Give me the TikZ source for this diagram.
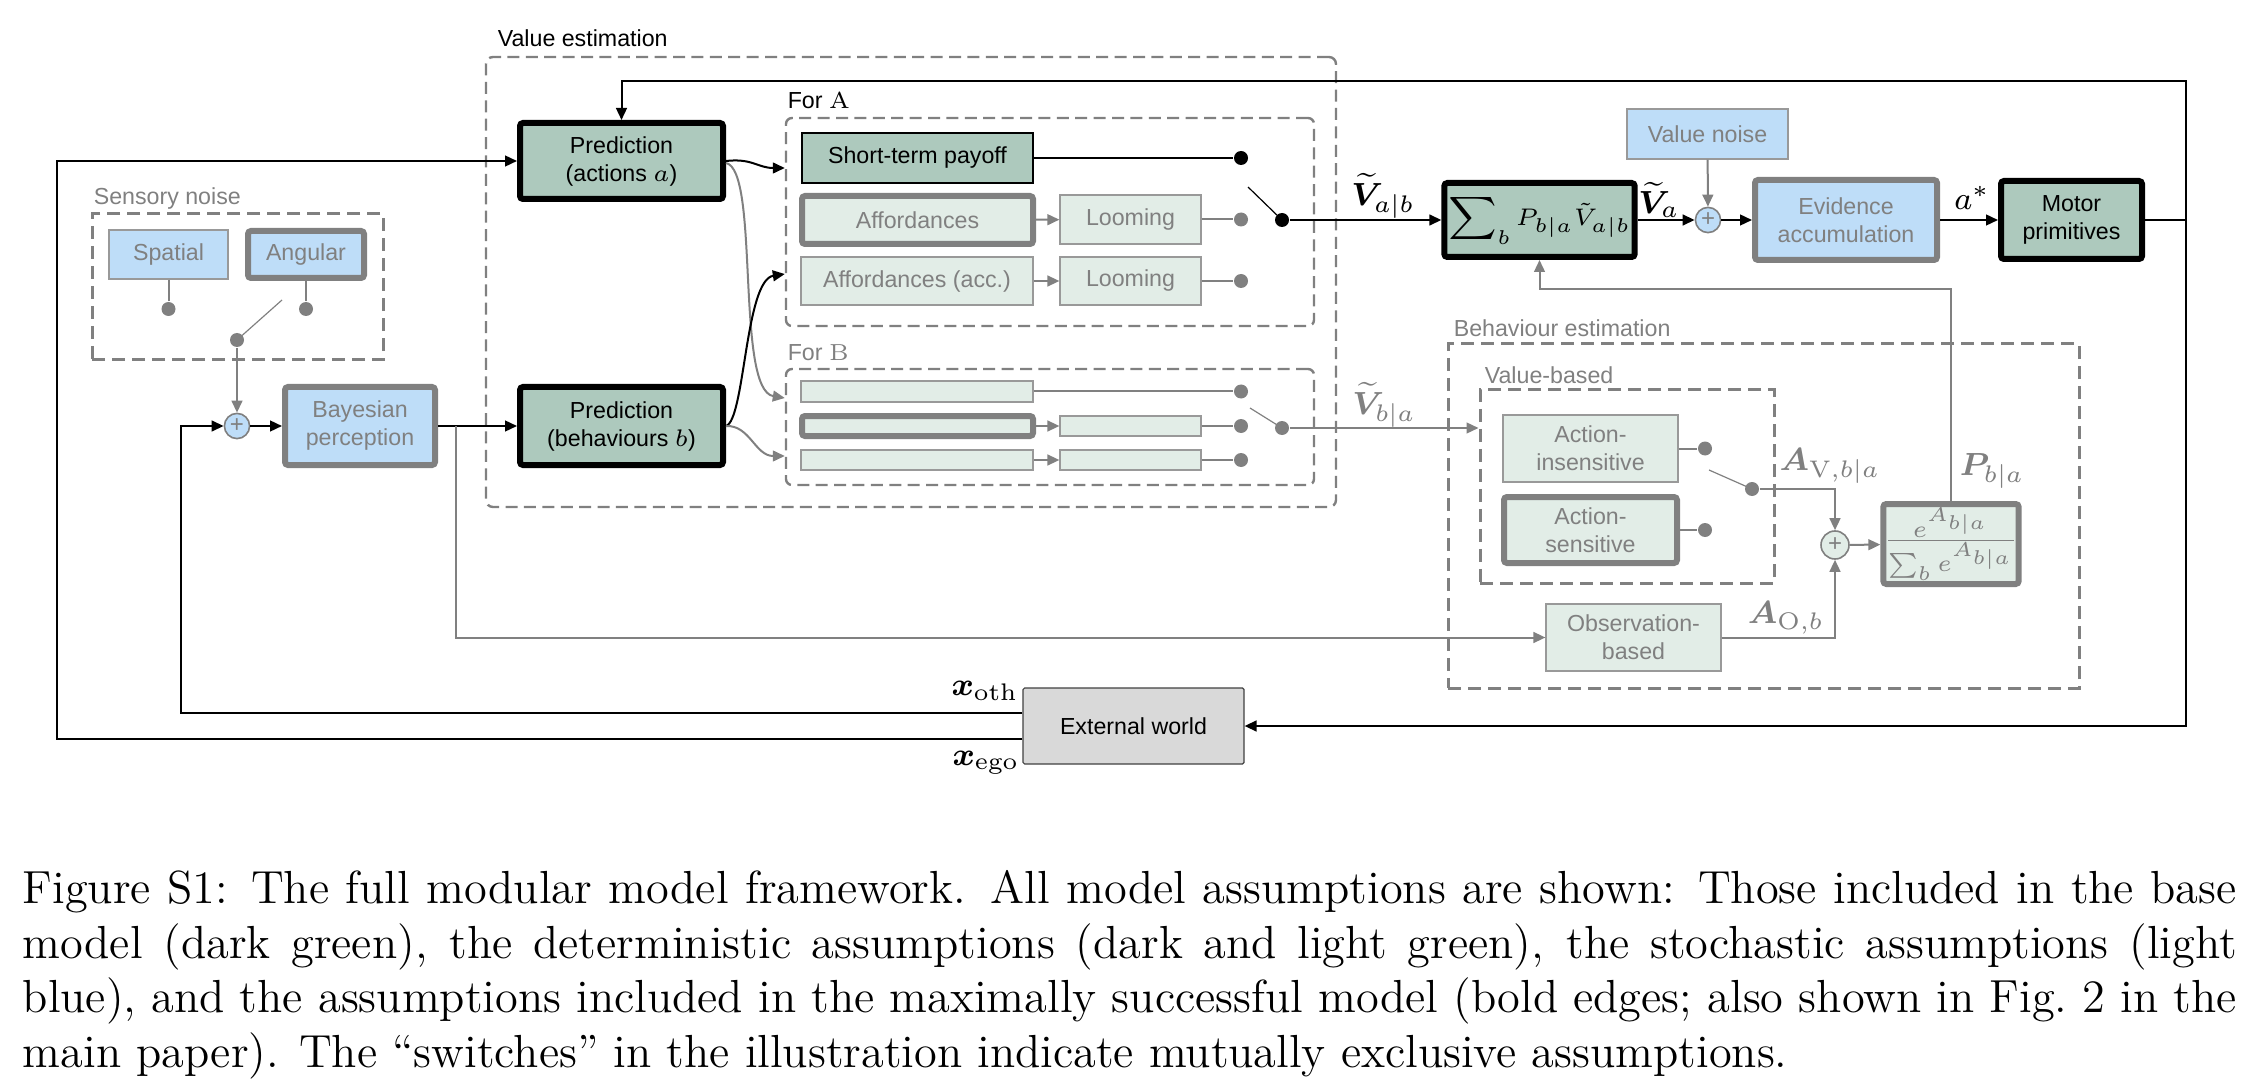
\documentclass[tikz,border=0pt]{standalone}
\usepackage{fontspec}
\setsansfont{Liberation Sans}
\usepackage{amsmath,bm}
\usetikzlibrary{arrows.meta}
\definecolor{dkgreen}{RGB}{173,201,189}
\definecolor{ltgreen}{RGB}{226,237,231}
\definecolor{ltblue}{RGB}{190,221,248}
\definecolor{midgray}{RGB}{128,128,128}
\definecolor{worldgray}{RGB}{217,217,217}
\tikzset{
 box/.style={draw=midgray!80, line width=0.3pt, inner sep=1pt, align=center, font=\sffamily\fontsize{5.8}{7}\selectfont},
 basebox/.style={box, fill=dkgreen, draw=black, text=black},
 detbox/.style={box, fill=ltgreen, text=midgray},
 stochbox/.style={box, fill=ltblue, text=midgray},
 worldbox/.style={box, fill=worldgray, draw=black!75, text=black, rounded corners=0.4pt},
 boldk/.style={draw=black, line width=1.5pt, rounded corners=0.75pt},
 boldg/.style={draw=midgray, line width=1.5pt, rounded corners=0.75pt},
 grp/.style={draw=midgray, line width=0.6pt, dash pattern=on 3pt off 1.6pt},
 grpthick/.style={grp, line width=0.75pt, dash pattern=on 3.2pt off 1.8pt},
 grplabel/.style={anchor=base west, inner sep=0, text=midgray, font=\sffamily\fontsize{5.8}{7}\selectfont},
 dotk/.style={circle, fill=black, inner sep=0, minimum size=3.5pt},
 dotg/.style={dotk, fill=midgray},
 stochcirc/.style={circle, draw=midgray, line width=0.4pt, fill=ltblue, text=midgray, inner sep=0, minimum size=6.3pt, font=\sffamily\fontsize{6}{6}\selectfont},
 detcirc/.style={stochcirc, fill=ltgreen, minimum size=7pt},
 arr/.style={-{Triangle[length=3pt,width=2.7pt]}, line width=0.5pt, black},
 garr/.style={arr, midgray},
 kline/.style={line width=0.5pt, black},
 gline/.style={line width=0.5pt, midgray},
 gthin/.style={line width=0.3pt, midgray},
 lbl/.style={inner sep=0, font=\fontsize{8}{9}\selectfont},
}
\newcommand\capline[1]{\makebox[553.5pt][s]{#1}}
\begin{document}
\begin{tikzpicture}[x=0.25pt,y=-0.25pt]
\useasboundingbox (0,0) rectangle (2250,1091);

\node[grp, rounded corners=1.75pt, minimum width=212.5pt, minimum height=112.5pt] (valest) at (911,282) {};
\node[grplabel, text=black] (valestlbl) at (497,47) {Value estimation};
\node[grp, rounded corners=1.5pt, minimum width=132pt, minimum height=52pt] (forA) at (1050,222) {};
\node[grplabel, text=black] (forAlbl) at (787,109) {For {\rmfamily A}};
\node[grp, rounded corners=1.5pt, minimum width=132pt, minimum height=29pt] (forB) at (1050,427) {};
\node[grplabel] (forBlbl) at (787,361) {For {\rmfamily B}};
\node[grpthick, minimum width=72.75pt, minimum height=36.5pt] (sensory) at (237.5,287) {};
\node[grplabel] (sensorylbl) at (93,205) {Sensory noise};
\node[grpthick, minimum width=157.75pt, minimum height=86pt] (behest) at (1763.5,516) {};
\node[grplabel] (behestlbl) at (1453,337) {Behaviour estimation};
\node[grpthick, minimum width=73.5pt, minimum height=48.25pt] (valbased) at (1627,486.5) {};
\node[grplabel] (valbasedlbl) at (1484,383) {Value-based};

\node[stochbox, minimum width=29.75pt, minimum height=12.25pt] (spatial) at (168.5,254.5) {Spatial};
\node[stochbox, boldg, minimum width=29pt, minimum height=11.75pt] (angular) at (306,254.5) {Angular};
\node[dotg] (dS1) at (168.5,309) {};
\node[dotg] (dS2) at (306,309) {};
\node[dotg] (swS) at (237,340) {};
\node[stochcirc] (sumS) at (237,426) {+};
\node[stochbox, boldg, minimum width=37.5pt, minimum height=19.5pt] (bayes) at (360,426) {Bayesian\\perception};
\node[basebox, boldk, minimum width=50.75pt, minimum height=19pt] (predA) at (621.5,161) {Prediction\\(actions $a$)};
\node[basebox, boldk, minimum width=50.75pt, minimum height=19.5pt] (predB) at (621.5,426) {Prediction\\(behaviours $b$)};

\node[basebox, minimum width=57.75pt, minimum height=12.5pt] (stpay) at (917.5,158) {Short-term payoff};
\node[detbox, boldg, minimum width=57.75pt, minimum height=12pt] (aff) at (917.5,220) {Affordances};
\node[detbox, minimum width=35.25pt, minimum height=12.25pt] (loomA) at (1130.5,219.5) {Looming};
\node[detbox, minimum width=58pt, minimum height=12pt] (affacc) at (917,281) {Affordances (acc.)};
\node[detbox, minimum width=35.25pt, minimum height=12pt] (loomB) at (1130.5,281) {Looming};
\node[dotk] (dA1) at (1241,158) {};
\node[dotg] (dA2) at (1241,219.5) {};
\node[dotg] (dA3) at (1241,281) {};
\node[dotk] (swA) at (1282,220) {};

\node[detbox, minimum width=58pt, minimum height=5.25pt] (bpay) at (917,391.5) {};
\node[detbox, boldg, minimum width=57.75pt, minimum height=5pt] (baff) at (917.5,426) {};
\node[detbox, minimum width=35.25pt, minimum height=5pt] (bloomA) at (1130.5,426) {};
\node[detbox, minimum width=58pt, minimum height=5pt] (baffacc) at (917,460) {};
\node[detbox, minimum width=35.25pt, minimum height=5pt] (bloomB) at (1130.5,460) {};
\node[dotg] (dB1) at (1241,391.5) {};
\node[dotg] (dB2) at (1241,426) {};
\node[dotg] (dB3) at (1241,460) {};
\node[dotg] (swB) at (1282,428) {};

\node[basebox, boldk, minimum width=42.25pt, minimum height=18.5pt] (expect) at (1539.5,220) {{\fontsize{7.5}{8}\selectfont$\displaystyle\sum\nolimits_b$}\,{\fontsize{5.8}{7}\selectfont$P_{b|a}\tilde{V}_{a|b}$}};
\node[stochbox, minimum width=40.25pt, minimum height=12.5pt] (vnoise) at (1707.5,134) {Value noise};
\node[stochcirc] (sumV) at (1708,220) {+};
\node[stochbox, boldg, minimum width=45.5pt, minimum height=20pt] (evid) at (1846,220) {Evidence\\accumulation};
\node[basebox, boldk, minimum width=35.25pt, minimum height=19.5pt] (motor) at (2071.5,220) {Motor\\primitives};
\coordinate (loopR) at (2186,220);

\node[detbox, minimum width=43.75pt, minimum height=16.75pt] (ains) at (1590.5,448.5) {Action-\\insensitive};
\node[detbox, boldg, minimum width=43.25pt, minimum height=16.5pt] (asens) at (1590.5,530) {Action-\\sensitive};
\node[dotg] (dV1) at (1705,448.5) {};
\node[dotg] (dV2) at (1705,530) {};
\node[dotg] (swV) at (1752,489) {};
\node[detbox, minimum width=43.75pt, minimum height=16.75pt] (obs) at (1633.5,637.5) {Observation-\\based};
\node[detcirc] (sumA) at (1835,545) {+};
\node[detbox, boldg, minimum width=32.5pt, minimum height=20pt, inner sep=0pt, font=\fontsize{6.2}{7}\selectfont] (softmax) at (1951,544) {$\frac{\textstyle e^{A_{b|a}}}{\textstyle\sum\nolimits_b e^{A_{b|a}}}$};
\node[worldbox, minimum width=55.25pt, minimum height=19pt] (world) at (1133.5,726) {External world};

\node[lbl] (Vab) at (1383,196) {$\widetilde{\bm{V}}_{a|b}$};
\node[lbl, text=midgray] (Vba) at (1384,405) {$\widetilde{\bm{V}}_{b|a}$};
\node[lbl] (Va) at (1659,200) {$\widetilde{\bm{V}}_{a}$};
\node[lbl] (astar) at (1972,198) {$a^{*}$};
\node[lbl, text=midgray] (AV) at (1830,466) {$\bm{A}_{\mathrm{V},b|a}$};
\node[lbl, text=midgray] (AO) at (1786,618) {$\bm{A}_{\mathrm{O},b}$};
\node[lbl, text=midgray] (Pba) at (1992,471) {$\bm{P}_{b|a}$};
\node[lbl] (xoth) at (985,691) {$\bm{x}_{\mathrm{oth}}$};
\node[lbl] (xego) at (986,763) {$\bm{x}_{\mathrm{ego}}$};

\draw[kline] (motor.east) -- (loopR);
\draw[arr] (loopR) |- (predA.north |- 0,81) -- (predA.north);
\draw[arr] (loopR) |- (world.east);
\draw[arr] ([yshift=3.25pt]world.west) -- (181,713) |- (sumS.west);
\draw[arr] ([yshift=-3.25pt]world.west) -- (57,739) |- (predA.west);

\draw[gline] (spatial) -- (dS1);
\draw[gline] (angular) -- (dS2);
\draw[gthin] (swS.center) -- (282,300);
\draw[garr] (swS) -- (sumS);
\draw[arr] (sumS) -- (bayes);
\draw[arr] (bayes) -- (predB);
\draw[garr] (bayes.east -| 456,0) |- (obs.west);

\draw[arr] (predA.east) .. controls (752,158) and (758,168) .. (forA.west |- 0,168);
\draw[garr] ([yshift=-0.5pt]predA.east) .. controls (760,170) and (735,390) .. (forB.west |- 0,398);
\draw[arr] (predB.east) .. controls (745,420) and (745,280) .. (forA.west |- 0,274);
\draw[garr] (predB.east) .. controls (750,425) and (755,456) .. (forB.west |- 0,456);

\draw[kline] (stpay) -- (dA1);
\draw[garr] (aff) -- (loomA);
\draw[gline] (loomA) -- (dA2);
\draw[garr] (affacc) -- (loomB);
\draw[gline] (loomB) -- (dA3);
\draw[line width=0.3pt] (swA.center) -- (1248,187);
\draw[arr] (swA) -- (expect);

\draw[gline] (bpay) -- (dB1);
\draw[garr] (baff) -- (bloomA);
\draw[gline] (bloomA) -- (dB2);
\draw[garr] (baffacc) -- (bloomB);
\draw[gline] (bloomB) -- (dB3);
\draw[gthin] (swB.center) -- (1250,408);
\draw[garr] (swB) -- (valbased.west |- swB);

\draw[arr] (expect) -- (sumV);
\draw[garr] (vnoise) -- (sumV);
\draw[arr] (sumV) -- (evid);
\draw[arr] (evid) -- (motor);
\draw[garr] (softmax.north) |- (expect.south |- 0,289) -- (expect.south);

\draw[gline] (ains) -- (dV1);
\draw[gline] (asens) -- (dV2);
\draw[gthin] (swV.center) -- (1709,470);
\draw[garr] (swV) -| (sumA);
\draw[garr] (obs) -| (sumA);
\draw[garr] (sumA) -- (softmax);

\node[anchor=north west, inner sep=0, font=\fontsize{11.6}{13.6}\selectfont] (caption) at (22,870) {\parbox[t]{553.5pt}{%
\capline{Figure S1: The full modular model framework. All model assumptions are shown: Those included in the base}\\
\capline{model (dark green), the deterministic assumptions (dark and light green), the stochastic assumptions (light}\\
\capline{blue), and the assumptions included in the maximally successful model (bold edges; also shown in Fig.~2 in the}\\
main paper). The ``switches'' in the illustration indicate mutually exclusive assumptions.}};
\end{tikzpicture}
\end{document}
